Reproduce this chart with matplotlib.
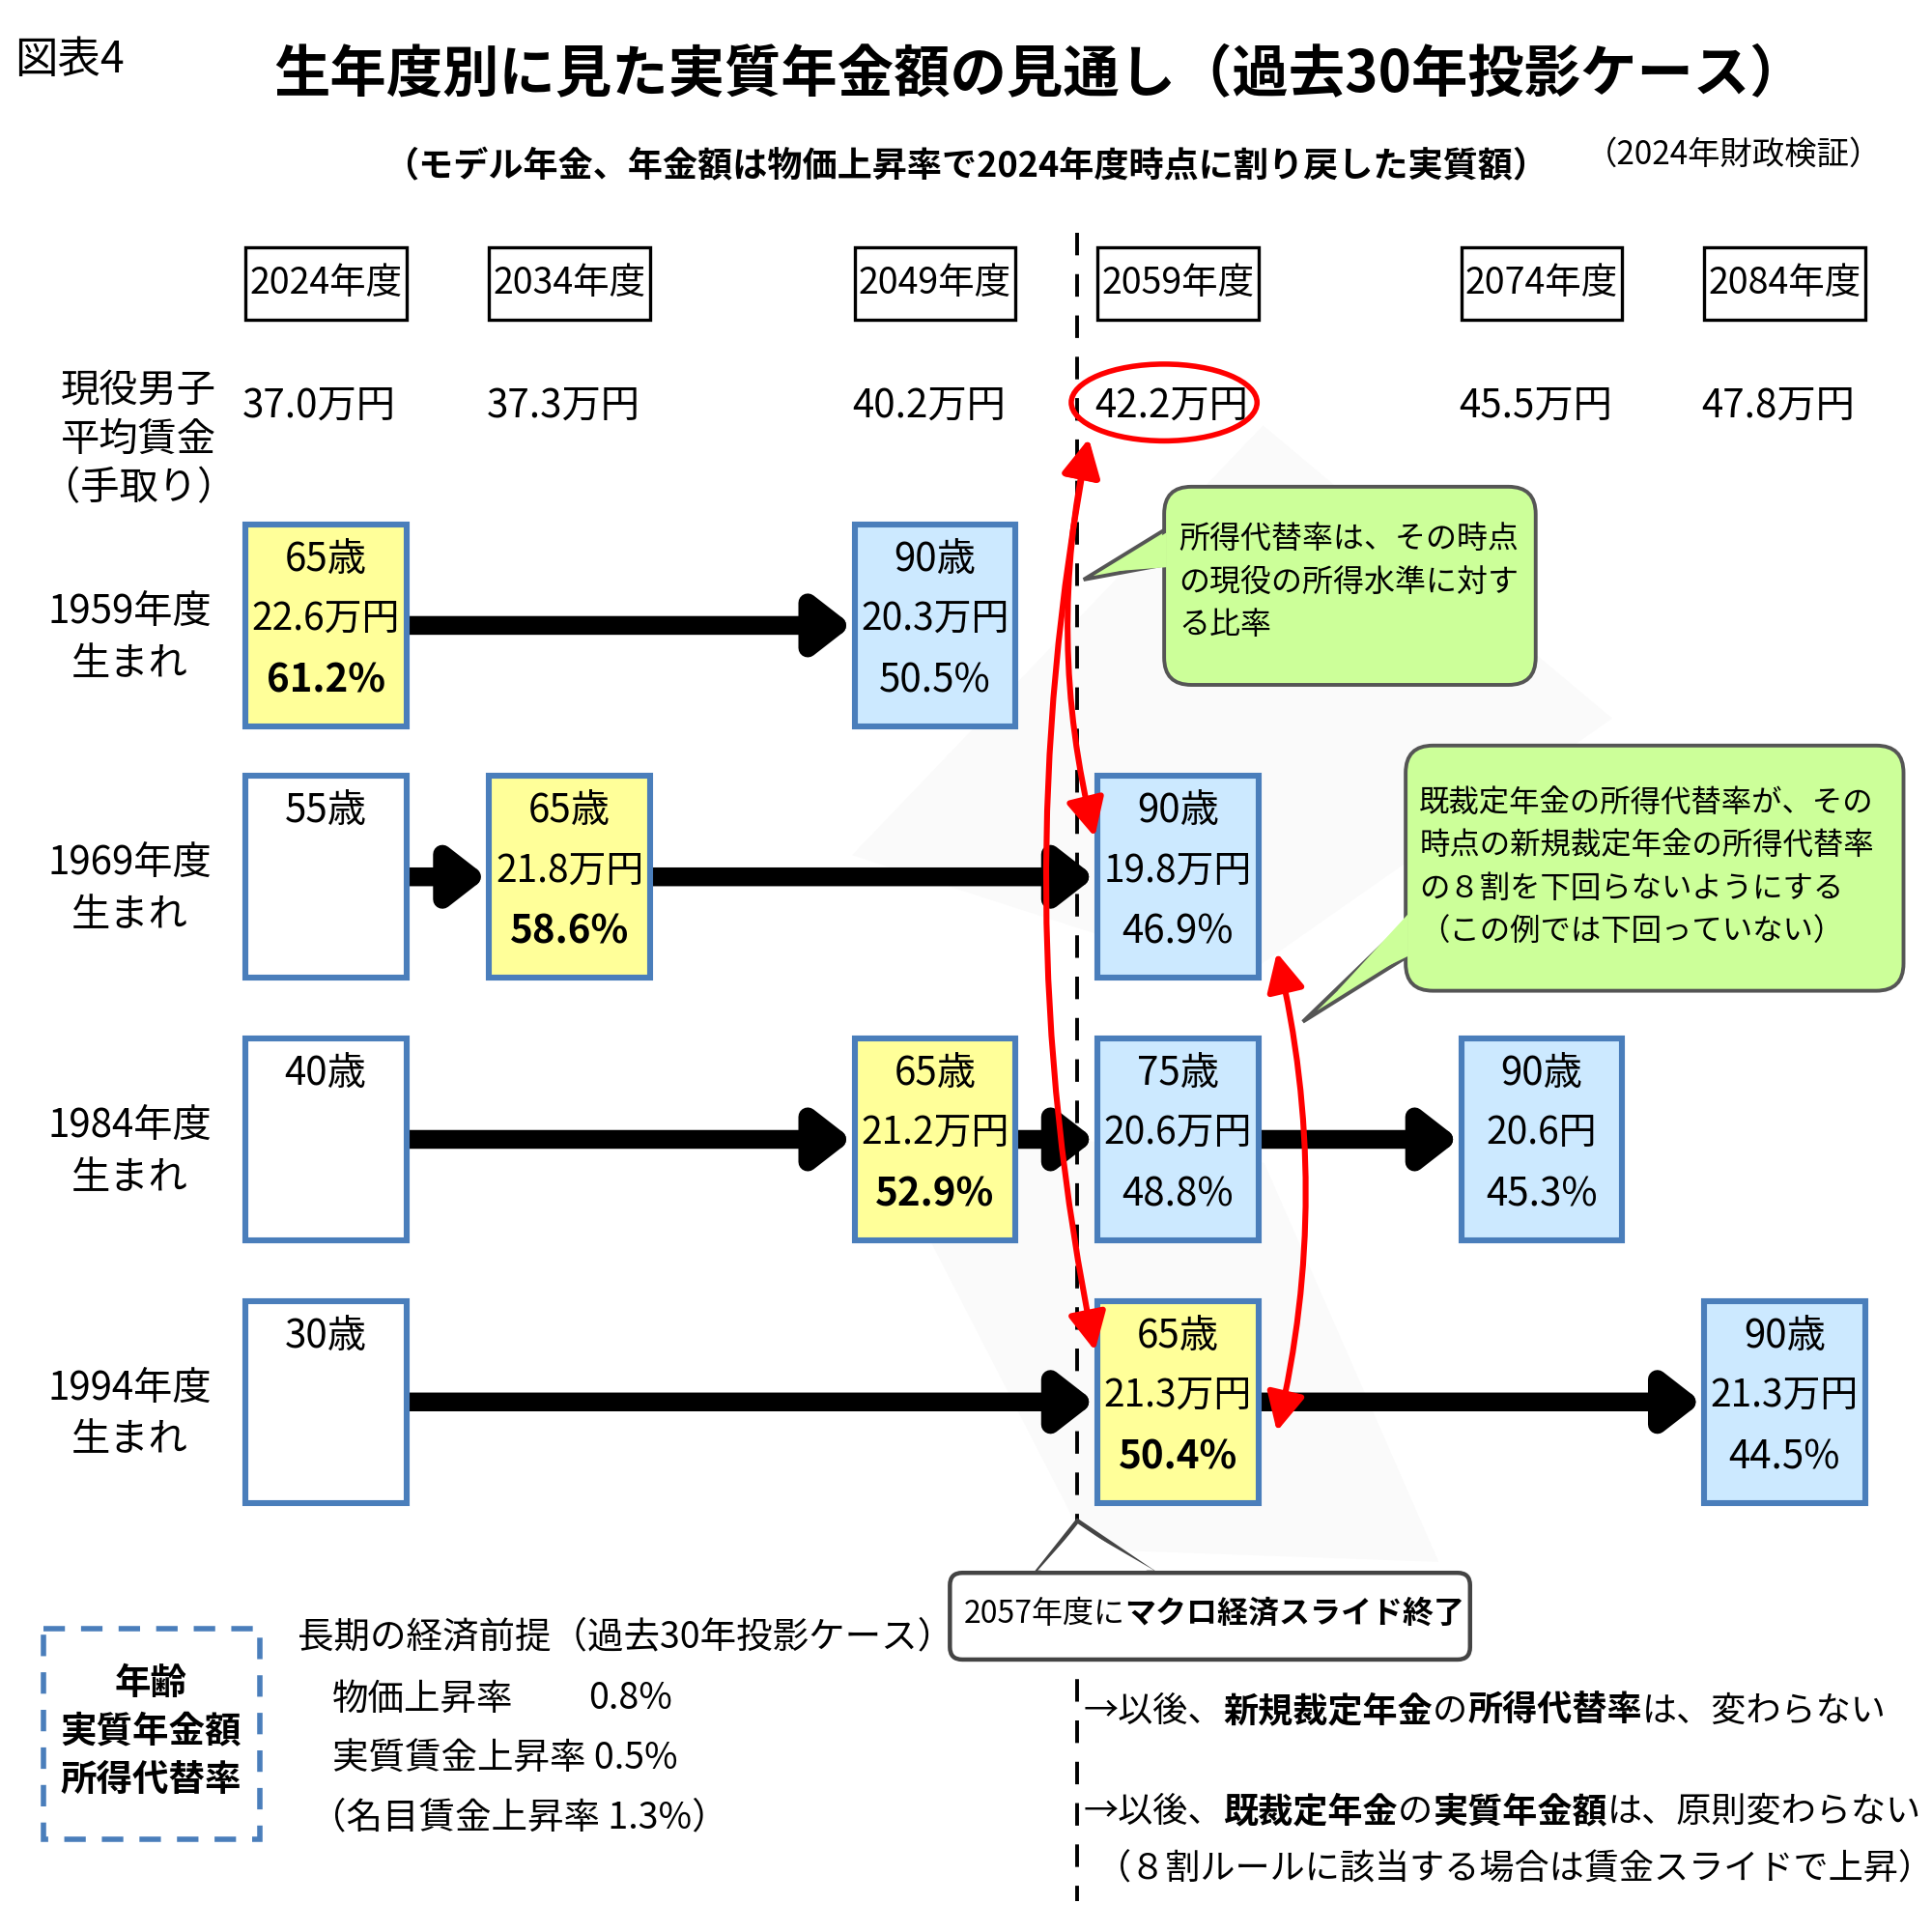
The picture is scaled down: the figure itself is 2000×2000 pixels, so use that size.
import matplotlib
matplotlib.use("Agg")
import matplotlib.pyplot as plt
from matplotlib.patches import Rectangle, FancyBboxPatch, FancyArrowPatch, Ellipse, Polygon

plt.rcParams["font.family"] = "Noto Sans CJK JP"

# data
years = ["2024年度", "2034年度", "2049年度", "2059年度", "2074年度", "2084年度"]
wages = ["37.0万円", "37.3万円", "40.2万円", "42.2万円", "45.5万円", "47.8万円"]
cohorts = ["1959年度\n生まれ", "1969年度\n生まれ", "1984年度\n生まれ", "1994年度\n生まれ"]
# (row, column, age, amount, rate)
cells = [
    (0, 0, "65歳", "22.6万円", "61.2%"), (0, 2, "90歳", "20.3万円", "50.5%"),
    (1, 0, "55歳", "", ""), (1, 1, "65歳", "21.8万円", "58.6%"), (1, 3, "90歳", "19.8万円", "46.9%"),
    (2, 0, "40歳", "", ""), (2, 2, "65歳", "21.2万円", "52.9%"), (2, 3, "75歳", "20.6万円", "48.8%"),
    (2, 4, "90歳", "20.6円", "45.3%"),
    (3, 0, "30歳", "", ""), (3, 3, "65歳", "21.3万円", "50.4%"), (3, 5, "90歳", "21.3万円", "44.5%"),
]

col_x = [263, 460, 755, 951, 1245, 1441]
row_y = [505, 708, 920, 1132]
BW, BH = 130, 163

fig = plt.figure(figsize=(10, 10), dpi=200)
ax = fig.add_axes([0, 0, 1, 1])
ax.set_xlim(0, 1560)
ax.set_ylim(1560, 0)
ax.axis("off")

# faint background shapes
ax.add_patch(Polygon([[690, 690], [1020, 345], [1300, 580], [1000, 790]], color="#fafafa", zorder=0))
ax.add_patch(Polygon([[700, 900], [1020, 940], [1160, 1260], [880, 1250]], color="#fafafa", zorder=0))

ax.text(12, 48, "図表4", fontsize=16, va="center")
ax.text(840, 60, "生年度別に見た実質年金額の見通し（過去30年投影ケース）", fontsize=21,
        ha="center", va="center", fontweight="bold")
ax.text(780, 135, "（モデル年金、年金額は物価上昇率で2024年度時点に割り戻した実質額）", fontsize=13,
        ha="center", va="center", fontweight="bold")
ax.text(1400, 125, "（2024年財政検証）", fontsize=12, ha="center", va="center")

for x, yr, w in zip(col_x, years, wages):
    ax.add_patch(Rectangle((x - 65, 200), 130, 58, fill=False, lw=1.2, ec="black"))
    ax.text(x, 229, yr, fontsize=13.5, ha="center", va="center")
    ax.text(x - 5, 328, w, fontsize=14.5, ha="center", va="center")
ax.text(112, 355, "現役男子\n平均賃金\n（手取り）", fontsize=14.5, ha="center", va="center", linespacing=1.3)

for y, c in zip(row_y, cohorts):
    ax.text(105, y + 10, c, fontsize=14.5, ha="center", va="center", linespacing=1.4)

# arrows within each row
for r in range(4):
    cols = sorted(c for rr, c, *_ in cells if rr == r)
    for a, b in zip(cols, cols[1:]):
        ax.add_patch(FancyArrowPatch((col_x[a] + BW / 2, row_y[r]), (col_x[b] - BW / 2 - 2, row_y[r]),
                                     arrowstyle="-|>,head_length=0.9,head_width=0.7", lw=7,
                                     color="black", mutation_scale=12, shrinkA=0, shrinkB=0, zorder=2))

for r, c, age, amt, rate in cells:
    x, y = col_x[c], row_y[r]
    if age == "65歳":
        fc = "#ffff99"
    elif amt:
        fc = "#cce9ff"
    else:
        fc = "white"
    ax.add_patch(Rectangle((x - BW / 2, y - BH / 2), BW, BH, fc=fc, ec="#4a7ebb", lw=2.2, zorder=3))
    ax.text(x, y - 53, age, fontsize=14.5, ha="center", va="center", zorder=4)
    if amt:
        ax.text(x, y - 5, amt, fontsize=14, ha="center", va="center", zorder=4)
        ax.text(x, y + 45, rate, fontsize=14.5, ha="center", va="center", zorder=4,
                fontweight="bold" if age == "65歳" else "normal")

# dashed vertical line
ax.plot([870, 870], [188, 1535], ls=(0, (6, 5)), color="black", lw=1.4, zorder=1)

# red marks
ax.add_patch(Ellipse((940, 325), 150, 62, fill=False, ec="red", lw=2, zorder=5))
red = dict(arrowstyle="<|-|>,head_length=1.0,head_width=0.5", color="red", lw=2.2,
           mutation_scale=12, zorder=6)
ax.add_patch(FancyArrowPatch((880, 350), (885, 680), connectionstyle="arc3,rad=0.12", **red))
ax.add_patch(FancyArrowPatch((880, 350), (885, 1095), connectionstyle="arc3,rad=0.1", **red))
ax.add_patch(FancyArrowPatch((1030, 765), (1030, 1160), connectionstyle="arc3,rad=-0.12", **red))

# callouts
green = "#ccff99"
ax.add_patch(Polygon([[875, 468], [945, 425], [945, 455]], fc=green, ec="#555555", lw=1.4, zorder=5))
ax.add_patch(FancyBboxPatch((940, 393), 300, 160, boxstyle="round,pad=0,rounding_size=22",
                            fc=green, ec="#555555", lw=1.4, zorder=5))
ax.add_patch(Polygon([[942, 430], [942, 458], [890, 462]], fc=green, ec="none", zorder=6))
ax.text(952, 470, "所得代替率は、その時点\nの現役の所得水準に対す\nる比率", fontsize=11.5,
        va="center", linespacing=1.5, zorder=7)

ax.add_patch(Polygon([[1052, 825], [1140, 740], [1140, 770]], fc=green, ec="#555555", lw=1.4, zorder=5))
ax.add_patch(FancyBboxPatch((1135, 602), 402, 198, boxstyle="round,pad=0,rounding_size=22",
                            fc=green, ec="#555555", lw=1.4, zorder=5))
ax.add_patch(Polygon([[1137, 738], [1137, 772], [1080, 800]], fc=green, ec="none", zorder=6))
ax.text(1146, 700, "既裁定年金の所得代替率が、その\n時点の新規裁定年金の所得代替率\nの８割を下回らないようにする\n（この例では下回っていない）",
        fontsize=11.3, va="center", linespacing=1.5, zorder=7)

# macro slide callout
ax.add_patch(Polygon([[870, 1228], [835, 1272], [935, 1272]], fc="white", ec="#444444", lw=1.6, zorder=5))
ax.add_patch(FancyBboxPatch((767, 1270), 420, 70, boxstyle="round,pad=0,rounding_size=10",
                            fc="white", ec="#444444", lw=1.6, zorder=5))
ax.add_patch(Polygon([[838, 1268], [932, 1268], [870, 1232]], fc="white", ec="none", zorder=6))

fig.canvas.draw()
renderer = fig.canvas.get_renderer()
inv = ax.transData.inverted()


def runs(x, y, parts, size):
    for s, bold in parts:
        t = ax.text(x, y, s, fontsize=size, va="center", zorder=8,
                    fontweight="bold" if bold else "normal")
        bb = t.get_window_extent(renderer)
        x = inv.transform((bb.x1, bb.y0))[0]


runs(778, 1303, [("2057年度に", False), ("マクロ経済スライド終了", True)], 11.5)
runs(875, 1382, [("→以後、", False), ("新規裁定年金", True), ("の", False), ("所得代替率", True),
                 ("は、変わらない", False)], 13)
runs(875, 1463, [("→以後、", False), ("既裁定年金", True), ("の", False), ("実質年金額", True),
                 ("は、原則変わらない", False)], 13)
ax.text(885, 1510, "（８割ルールに該当する場合は賃金スライドで上昇）", fontsize=13, va="center")

# legend box
ax.add_patch(Rectangle((35, 1315), 175, 170, fill=False, ec="#4a7ebb", lw=2, ls=(0, (4, 3))))
ax.text(122, 1398, "年齢\n実質年金額\n所得代替率", fontsize=13.5, ha="center", va="center",
        fontweight="bold", linespacing=1.35)
ax.text(240, 1322, "長期の経済前提（過去30年投影ケース）", fontsize=13.5, va="center")
ax.text(268, 1372, "物価上昇率", fontsize=13.5, va="center")
ax.text(475, 1372, "0.8%", fontsize=13.5, va="center")
ax.text(268, 1420, "実質賃金上昇率 0.5%", fontsize=13.5, va="center")
ax.text(250, 1468, "（名目賃金上昇率 1.3%）", fontsize=13.5, va="center")

fig.savefig("out.png", dpi=200, facecolor="white")
